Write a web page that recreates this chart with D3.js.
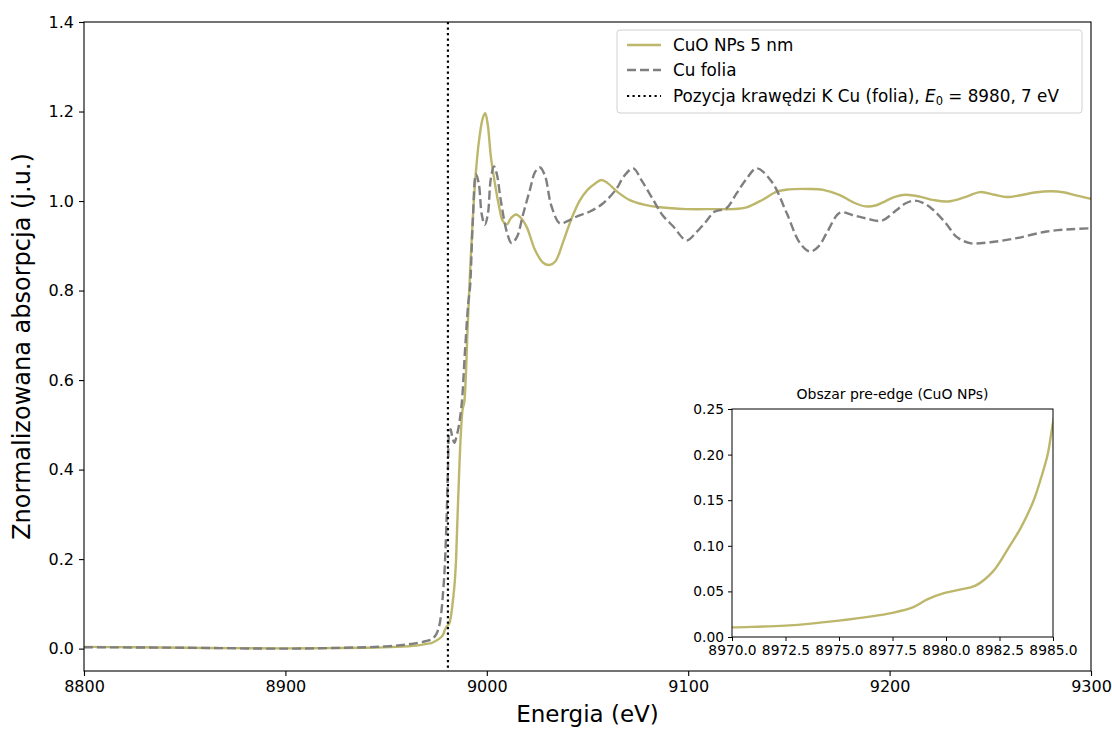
<!DOCTYPE html>
<html>
<head>
<meta charset="utf-8">
<script src="https://cdn.jsdelivr.net/npm/d3@7"></script>
<style>
  body { margin: 0; background: #fff; }
  svg { display: block; font-family: "DejaVu Sans", sans-serif; }
</style>
</head>
<body>
<svg id="chart" width="1112" height="731"></svg>
<script>
// ---------------- DATA ----------------
const cuoEnergy = [8800, 8825, 8850, 8875, 8900, 8920, 8940, 8955, 8965, 8970, 8972.5, 8975, 8977.5, 8978.5, 8979.1, 8979.9, 8980.65, 8981.35, 8982.2, 8982.93, 8983.5, 8984.1, 8984.45, 8984.75, 8985,
  8986, 8987, 8988, 8988.8, 8989.5, 8990.5, 8992, 8994, 8996, 8998, 8999.2, 9000.5, 9002, 9004, 9006, 9008, 9010, 9012, 9014.5, 9017, 9020, 9024, 9028, 9031, 9034, 9038, 9042, 9046, 9050, 9054, 9057, 9060, 9065, 9071, 9078, 9086, 9099, 9114, 9122, 9129, 9137, 9144, 9150, 9160, 9167, 9175, 9182, 9188, 9193, 9198, 9203, 9208, 9215, 9222, 9229, 9237, 9245, 9252, 9258, 9265, 9272, 9280, 9287, 9293, 9300];
const cuoValue = [0.004, 0.003, 0.002, 0.001, 0.0005, 0.001, 0.002, 0.004, 0.007, 0.0106, 0.0125, 0.0180, 0.0265, 0.033, 0.041, 0.048, 0.052, 0.056, 0.072, 0.098, 0.12, 0.15, 0.175, 0.20, 0.235,
  0.36, 0.47, 0.535, 0.55, 0.6, 0.72, 0.87, 1.03, 1.13, 1.185, 1.196, 1.17, 1.1, 1.04, 0.99, 0.955, 0.948, 0.962, 0.970, 0.962, 0.94, 0.89, 0.862, 0.857, 0.865, 0.91, 0.96, 1.0, 1.025, 1.04, 1.047, 1.04, 1.02, 1.002, 0.992, 0.986, 0.982, 0.982, 0.982, 0.986, 1.003, 1.021, 1.026, 1.027, 1.025, 1.014, 0.997, 0.988, 0.99, 1.0, 1.01, 1.014, 1.01, 1.002, 0.999, 1.008, 1.02, 1.014, 1.009, 1.013, 1.019, 1.022, 1.019, 1.012, 1.005];

const foilEnergy = [8800, 8850, 8900, 8930, 8950, 8960, 8966, 8970, 8973, 8975, 8976.7, 8978.4, 8979.2, 8980.1, 8980.7, 8981.3, 8982, 8983, 8984, 8985, 8985.8, 8987.5, 8989.2, 8990.8, 8991.7, 8993, 8994.6, 8996, 8997.5, 8999, 9000.5, 9002, 9003.6, 9005, 9007, 9010, 9012.3, 9015, 9018, 9021.4, 9024, 9026.4, 9029, 9032, 9036.3, 9040, 9045.4, 9051, 9057.8, 9064.5, 9068, 9072.7, 9077, 9082.7, 9087, 9092.6, 9099.2, 9104, 9109, 9113, 9119, 9124, 9129, 9134, 9141.5, 9148.9, 9155.5, 9160.5, 9165, 9168.7, 9175.4, 9182, 9188.6, 9196, 9203.5, 9208, 9212.6, 9217, 9221.7, 9228, 9233.3, 9239.9, 9250, 9263, 9278, 9290, 9300];
const foilValue = [0.003, 0.002, 0.0, 0.002, 0.005, 0.009, 0.013, 0.017, 0.022, 0.033, 0.058, 0.132, 0.19, 0.30, 0.40, 0.48, 0.49, 0.47, 0.46, 0.475, 0.49, 0.545, 0.667, 0.772, 0.809, 0.95, 1.06, 1.04, 0.97, 0.947, 0.97, 1.05, 1.077, 1.06, 1.0, 0.93, 0.906, 0.92, 0.97, 1.025, 1.065, 1.075, 1.055, 0.99, 0.950, 0.955, 0.967, 0.976, 0.995, 1.028, 1.055, 1.073, 1.045, 1.002, 0.97, 0.943, 0.912, 0.93, 0.955, 0.976, 0.984, 1.017, 1.05, 1.073, 1.043, 0.973, 0.906, 0.887, 0.9, 0.928, 0.974, 0.968, 0.961, 0.956, 0.980, 0.995, 1.001, 0.995, 0.980, 0.95, 0.920, 0.906, 0.908, 0.917, 0.932, 0.937, 0.939];

const edgeE0 = 8980.7;

const seriesNames = ["CuO NPs 5 nm", "Cu folia", "Pozycja krawędzi K Cu (folia), "];
const xTicks = [8800, 8900, 9000, 9100, 9200, 9300];
const yTicks = [0.0, 0.2, 0.4, 0.6, 0.8, 1.0, 1.2, 1.4];
const insetXTicks = [8970.0, 8972.5, 8975.0, 8977.5, 8980.0, 8982.5, 8985.0];
const insetYTicks = [0.00, 0.05, 0.10, 0.15, 0.20, 0.25];

// ---------------- DRAW ----------------
const svg = d3.select("#chart");
const colSolid = "#bdb76b", colDash = "#7f7f7f";
const dashPat = "9,4", dotPat = "2.2,3.3";

const M = {left: 84, right: 1091, top: 22, bottom: 671};
const x = d3.scaleLinear().domain([8800, 9300]).range([M.left, M.right]);
const y = d3.scaleLinear().domain([-0.05, 1.4]).range([M.bottom, M.top]);

const cuo = cuoEnergy.map((e, i) => ({e, v: cuoValue[i]}));
const foil = foilEnergy.map((e, i) => ({e, v: foilValue[i]}));

svg.append("clipPath").attr("id", "clipMain").append("rect")
  .attr("x", M.left).attr("y", M.top).attr("width", M.right - M.left).attr("height", M.bottom - M.top);

const curve = d3.curveCatmullRom.alpha(0.5);
const line = d3.line().x(d => x(d.e)).y(d => y(d.v)).curve(curve);

const g = svg.append("g").attr("clip-path", "url(#clipMain)");
g.append("path").datum(cuo).attr("d", line).attr("fill", "none")
  .attr("stroke", colSolid).attr("stroke-width", 2.4);
g.append("path").datum(foil).attr("d", line).attr("fill", "none")
  .attr("stroke", colDash).attr("stroke-width", 2.4).attr("stroke-dasharray", dashPat);
g.append("line").attr("x1", x(edgeE0)).attr("x2", x(edgeE0)).attr("y1", M.top).attr("y2", M.bottom)
  .attr("stroke", "#000").attr("stroke-width", 2.2).attr("stroke-dasharray", dotPat);

// axes
const xAxis = d3.axisBottom(x).tickValues(xTicks).tickSize(5).tickPadding(5).tickFormat(d3.format("d"));
const yAxis = d3.axisLeft(y).tickValues(yTicks).tickSize(5).tickPadding(5).tickFormat(d3.format(".1f"));
const gx = svg.append("g").attr("transform", `translate(0,${M.bottom})`).call(xAxis);
const gy = svg.append("g").attr("transform", `translate(${M.left},0)`).call(yAxis);
[gx, gy].forEach(a => {
  a.select(".domain").remove();
  a.selectAll("text").attr("font-size", 16).attr("fill", "#000").attr("font-family", "DejaVu Sans");
  a.selectAll("line").attr("stroke", "#000").attr("stroke-width", 1.1);
});
svg.append("rect").attr("x", M.left).attr("y", M.top).attr("width", M.right - M.left).attr("height", M.bottom - M.top)
  .attr("fill", "none").attr("stroke", "#000").attr("stroke-width", 1.1);

svg.append("text").attr("x", (M.left + M.right) / 2).attr("y", 722).attr("text-anchor", "middle")
  .attr("font-size", 23).text("Energia (eV)");
svg.append("text").attr("transform", `translate(30,${(M.top + M.bottom) / 2}) rotate(-90)`)
  .attr("text-anchor", "middle").attr("font-size", 24).text("Znormalizowana absorpcja (j.u.)");

// legend
const lg = svg.append("g");
lg.append("rect").attr("x", 617).attr("y", 30).attr("width", 465).attr("height", 83).attr("rx", 3)
  .attr("fill", "#fff").attr("fill-opacity", 0.85).attr("stroke", "#d0d0d0").attr("stroke-width", 1);
const legY = [45, 70, 96];
const legStyles = [
  {stroke: colSolid, dash: null, w: 2.4},
  {stroke: colDash, dash: dashPat, w: 2.4},
  {stroke: "#000", dash: dotPat, w: 2.2}
];
legStyles.forEach((s, i) => {
  const l = lg.append("line").attr("x1", 627).attr("x2", 661).attr("y1", legY[i]).attr("y2", legY[i])
    .attr("stroke", s.stroke).attr("stroke-width", s.w);
  if (s.dash) l.attr("stroke-dasharray", s.dash);
});
const fs = 16.8;
lg.append("text").attr("x", 673).attr("y", legY[0] + 6).attr("font-size", fs).text(seriesNames[0]);
lg.append("text").attr("x", 673).attr("y", legY[1] + 6).attr("font-size", fs).text(seriesNames[1]);
const t3 = lg.append("text").attr("x", 673).attr("y", legY[2] + 6).attr("font-size", fs);
t3.append("tspan").text(seriesNames[2]);
t3.append("tspan").attr("font-style", "italic").text("E");
t3.append("tspan").attr("font-size", 11.5).attr("dy", 3).text("0");
t3.append("tspan").attr("dy", -3).text(" = 8980, 7 eV");

// inset
const I = {left: 732, right: 1053, top: 409, bottom: 637};
const xi = d3.scaleLinear().domain([8970, 8985]).range([I.left, I.right]);
const yi = d3.scaleLinear().domain([0, 0.25]).range([I.bottom, I.top]);
svg.append("rect").attr("x", I.left).attr("y", I.top).attr("width", I.right - I.left).attr("height", I.bottom - I.top)
  .attr("fill", "#fff");
svg.append("clipPath").attr("id", "clipInset").append("rect")
  .attr("x", I.left).attr("y", I.top).attr("width", I.right - I.left).attr("height", I.bottom - I.top);
const lineI = d3.line().x(d => xi(d.e)).y(d => yi(d.v)).curve(curve);
svg.append("g").attr("clip-path", "url(#clipInset)").append("path")
  .datum(cuo.filter(d => d.e >= 8965 && d.e <= 8986)).attr("d", lineI)
  .attr("fill", "none").attr("stroke", colSolid).attr("stroke-width", 2.4);
const gxi = svg.append("g").attr("transform", `translate(0,${I.bottom})`)
  .call(d3.axisBottom(xi).tickValues(insetXTicks).tickSize(4).tickPadding(4).tickFormat(d3.format(".1f")));
const gyi = svg.append("g").attr("transform", `translate(${I.left},0)`)
  .call(d3.axisLeft(yi).tickValues(insetYTicks).tickSize(4).tickPadding(4).tickFormat(d3.format(".2f")));
[gxi, gyi].forEach(a => {
  a.select(".domain").remove();
  a.selectAll("text").attr("font-size", 13.8).attr("fill", "#000").attr("font-family", "DejaVu Sans");
  a.selectAll("line").attr("stroke", "#000").attr("stroke-width", 1);
});
svg.append("rect").attr("x", I.left).attr("y", I.top).attr("width", I.right - I.left).attr("height", I.bottom - I.top)
  .attr("fill", "none").attr("stroke", "#000").attr("stroke-width", 1);
svg.append("text").attr("x", (I.left + I.right) / 2).attr("y", 399).attr("text-anchor", "middle")
  .attr("font-size", 14).text("Obszar pre-edge (CuO NPs)");
</script>
</body>
</html>
